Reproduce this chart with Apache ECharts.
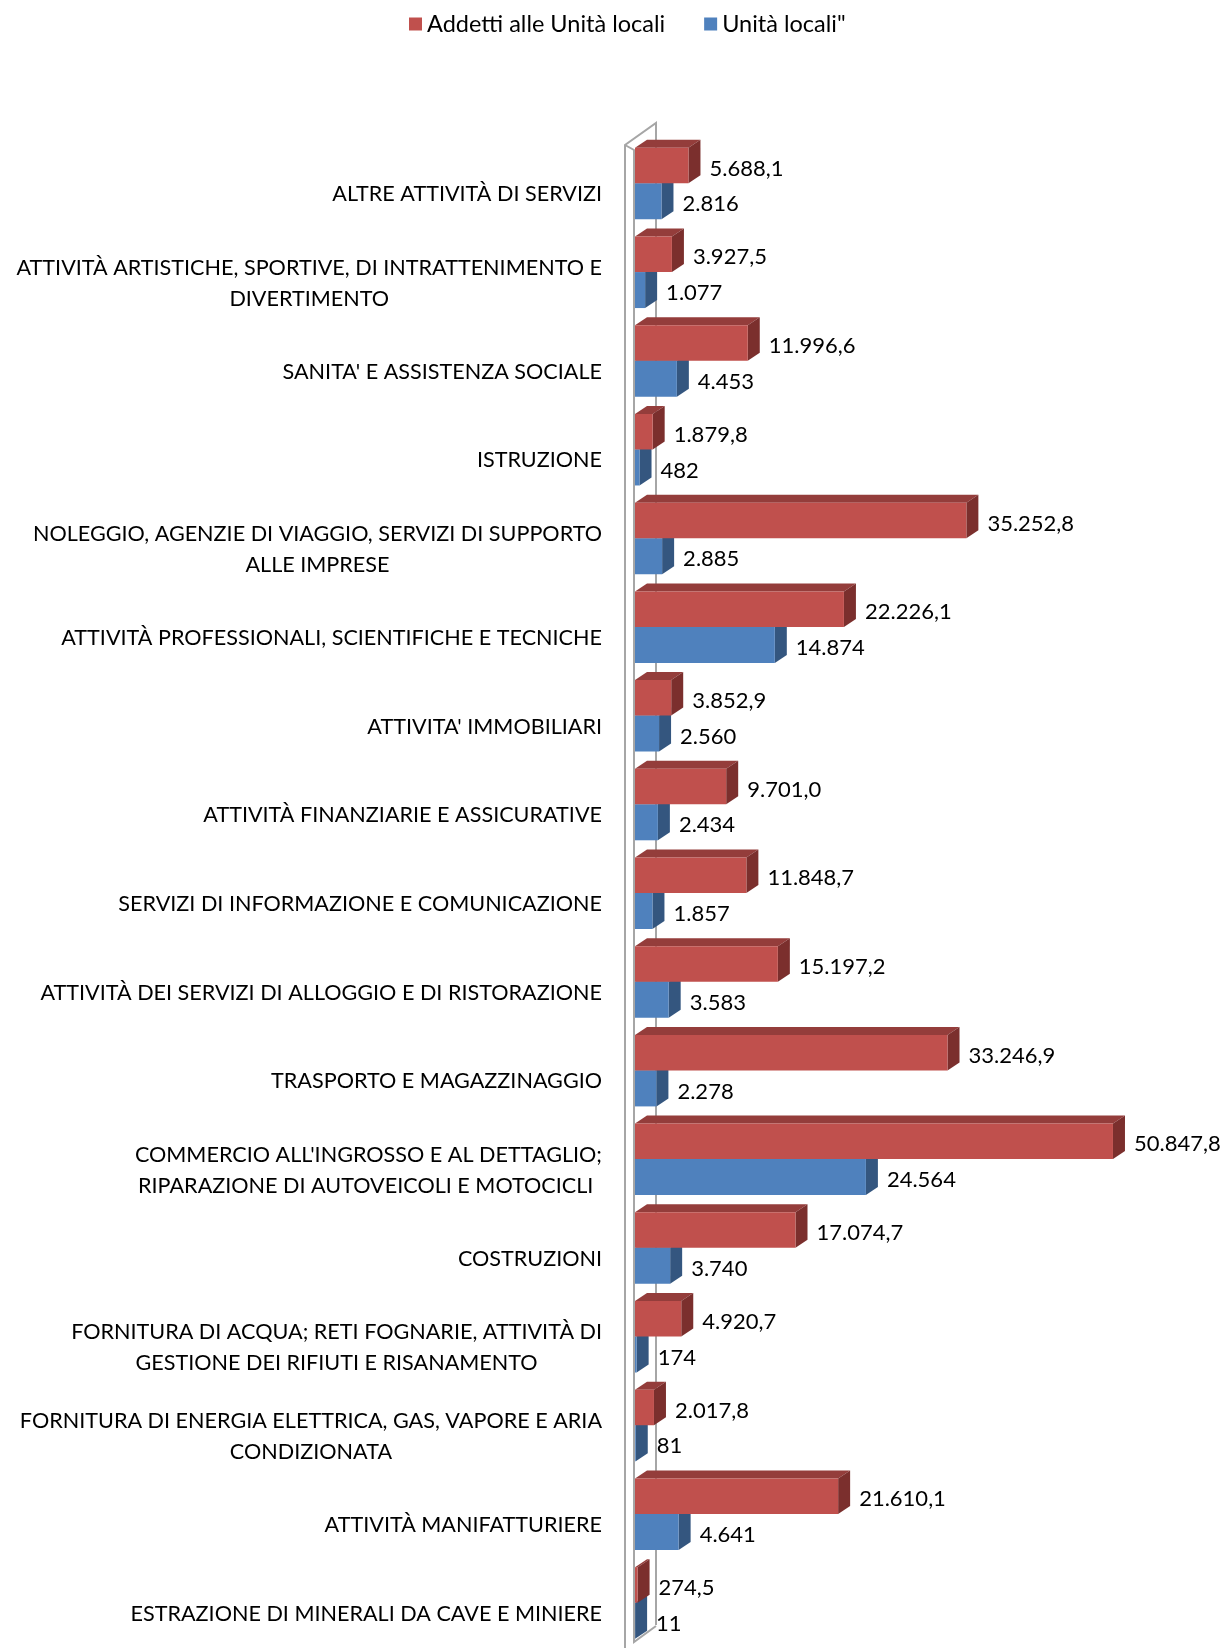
<!DOCTYPE html>
<html>
<head>
<meta charset="utf-8">
<script src="https://cdn.jsdelivr.net/npm/echarts@6/dist/echarts.min.js"></script>
<style>
  html, body { margin: 0; padding: 0; background: #fff; }
  #main { width: 1227px; height: 1650px; }
</style>
</head>
<body>
<div id="main"></div>
<script>
var categories = [
  'ALTRE ATTIVITÀ DI SERVIZI',
  'ATTIVITÀ ARTISTICHE, SPORTIVE, DI INTRATTENIMENTO E\nDIVERTIMENTO',
  "SANITA' E ASSISTENZA SOCIALE",
  'ISTRUZIONE',
  'NOLEGGIO, AGENZIE DI VIAGGIO, SERVIZI DI SUPPORTO\nALLE IMPRESE',
  'ATTIVITÀ PROFESSIONALI, SCIENTIFICHE E TECNICHE',
  "ATTIVITA' IMMOBILIARI",
  'ATTIVITÀ FINANZIARIE E ASSICURATIVE',
  'SERVIZI DI INFORMAZIONE E COMUNICAZIONE',
  'ATTIVITÀ DEI SERVIZI DI ALLOGGIO E DI RISTORAZIONE',
  'TRASPORTO E MAGAZZINAGGIO',
  "COMMERCIO ALL'INGROSSO E AL DETTAGLIO;\nRIPARAZIONE DI AUTOVEICOLI E MOTOCICLI ",
  'COSTRUZIONI',
  'FORNITURA DI ACQUA; RETI FOGNARIE, ATTIVITÀ DI\nGESTIONE DEI RIFIUTI E RISANAMENTO',
  'FORNITURA DI ENERGIA ELETTRICA, GAS, VAPORE E ARIA\nCONDIZIONATA',
  'ATTIVITÀ MANIFATTURIERE',
  'ESTRAZIONE DI MINERALI DA CAVE E MINIERE'
];
var addetti = [5688.1, 3927.5, 11996.6, 1879.8, 35252.8, 22226.1, 3852.9, 9701.0,
  11848.7, 15197.2, 33246.9, 50847.8, 17074.7, 4920.7, 2017.8, 21610.1, 274.5];
var unita = [2816, 1077, 4453, 482, 2885, 14874, 2560, 2434,
  1857, 3583, 2278, 24564, 3740, 174, 81, 4641, 11];
var seriesNames = ['Addetti alle Unità locali', 'Unità locali"'];

var FONT = 'Lato';
var DX = 12, DY = -8;

// numeri in formato italiano: 50.847,8
function fmt(v, dec) {
  var s = v.toFixed(dec).split('.');
  var int = s[0].replace(/\B(?=(\d{3})+(?!\d))/g, '.');
  return dec ? int + ',' + s[1] : int;
}

function makeRender(which, colors, dec) {
  return function (params, api) {
    var i = api.value(1);
    var v = api.value(0);
    var p0 = api.coord([0, i]);
    var p1 = api.coord([v, i]);
    var c = p0[1] - 9;
    var yT, yB;
    if (which === 0) { yT = c - 35.5; yB = c; } else { yT = c; yB = c + 36; }
    var x0 = p0[0], x1 = p1[0];
    return {
      type: 'group',
      children: [
        { type: 'polygon', shape: { points: [[x0, yT], [x1, yT], [x1 + DX, yT + DY], [x0 + DX, yT + DY]] },
          style: { fill: colors.top } },
        { type: 'polygon', shape: { points: [[x1, yT], [x1 + DX, yT + DY], [x1 + DX, yB + DY], [x1, yB]] },
          style: { fill: colors.side } },
        { type: 'rect', shape: { x: x0, y: yT, width: x1 - x0, height: yB - yT },
          style: { fill: colors.front } },
        { type: 'text', x: x1 + 21, y: (yT + yB) / 2 + 3,
          style: { text: fmt(v, dec), fill: '#000', font: '22px ' + FONT,
            textAlign: 'left', textVerticalAlign: 'middle' } }
      ]
    };
  };
}

var chart = echarts.init(document.getElementById('main'));
chart.setOption({
  animation: false,
  backgroundColor: '#fff',
  textStyle: { fontFamily: FONT },
  legend: {
    left: 409, top: 12, padding: 0,
    icon: 'rect', itemWidth: 13, itemHeight: 13, itemGap: 39,
    textStyle: { fontSize: 23.5, color: '#000', fontFamily: FONT },
    data: seriesNames
  },
  grid: { left: 635, right: 28, top: 148, height: 1508, outerBoundsMode: 'none' },
  xAxis: {
    type: 'value', min: 0, max: 60000, show: false
  },
  yAxis: {
    type: 'category', inverse: true, data: categories,
    axisLine: { show: false }, axisTick: { show: false },
    axisLabel: {
      interval: 0, margin: 33, color: '#000', padding: [4, 0, 0, 0],
      formatter: function (t) {
        return t.split('\n').map(function (l) { return '{c|' + l + '}'; }).join('\n');
      },
      rich: { c: { align: 'center', fontSize: 21.6, lineHeight: 31, fontFamily: FONT, color: '#000' } }
    }
  },
  graphic: [
    { type: 'polyline', z: 0,
      shape: { points: [[625, 1648], [625, 145], [656, 123], [656, 1625]] },
      style: { stroke: '#a6a6a6', lineWidth: 2, fill: null } },
    { type: 'polyline', z: 0,
      shape: { points: [[625, 145], [634, 150], [634, 1642], [656, 1626]] },
      style: { stroke: '#a6a6a6', lineWidth: 2, fill: null } }
  ],
  series: [
    {
      name: seriesNames[1], type: 'custom', z: 3,
      itemStyle: { color: '#4F81BD' },
      encode: { x: 0, y: 1 },
      renderItem: makeRender(1, { front: '#4F81BD', top: '#3e6aa0', side: '#34567f' }, 0),
      data: unita.map(function (v, i) { return [v, i]; })
    },
    {
      name: seriesNames[0], type: 'custom', z: 4,
      itemStyle: { color: '#C0504D' },
      encode: { x: 0, y: 1 },
      renderItem: makeRender(0, { front: '#C0504D', top: '#943d3b', side: '#7b2f2d' }, 1),
      data: addetti.map(function (v, i) { return [v, i]; })
    }
  ]
});
</script>
</body>
</html>
